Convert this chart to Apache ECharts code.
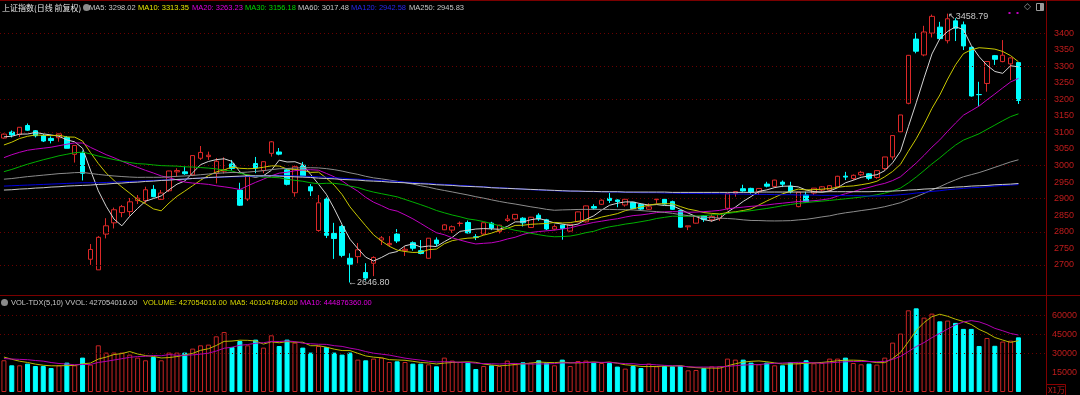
<!DOCTYPE html>
<html><head><meta charset="utf-8">
<script src="https://cdn.jsdelivr.net/npm/echarts/dist/echarts.min.js"></script>
<style>html,body{margin:0;padding:0;background:#000;}#c{width:1080px;height:395px;}</style>
</head><body><div id="c"></div>
<script>
// ---- categories (trading days, 2020) ----
const dates = ['0109','0110','0113','0114','0115','0116','0117','0120','0121','0122','0123',
'0203','0204','0205','0206','0207','0210','0211','0212','0213','0214','0217','0218','0219','0220','0221','0224','0225','0226','0227','0228',
'0302','0303','0304','0305','0306','0309','0310','0311','0312','0313','0316','0317','0318','0319','0320','0323','0324','0325','0326','0327','0330','0331',
'0401','0402','0403','0407','0408','0409','0410','0413','0414','0415','0416','0417','0420','0421','0422','0423','0424','0427','0428','0429','0430',
'0506','0507','0508','0511','0512','0513','0514','0515','0518','0519','0520','0521','0522','0525','0526','0527','0528','0529',
'0601','0602','0603','0604','0605','0608','0609','0610','0611','0612','0615','0616','0617','0618','0619','0622','0623','0624','0629','0630',
'0701','0702','0703','0706','0707','0708','0709','0710','0713','0714','0715','0716','0717','0720','0721','0722','0723','0724'];

const opens = [3083,3101,3094,3121,3105,3090,3082,3084,3085,3034,3038,
2717,2685,2793,2827,2858,2861,2894,2894,2928,2898,2924,2981,2981,2972,3022,3027,2977,2983,3005,2926,
2899,3006,2985,3037,3041,2987,2918,3001,2936,2804,2899,2795,2816,2720,2725,2677,2705,2775,2761,2793,2743,2767,
2743,2720,2775,2806,2805,2825,2828,2785,2793,2826,2801,2834,2839,2841,2813,2850,2836,2808,2820,2802,2830,
2830,2876,2883,2901,2896,2881,2889,2883,2868,2897,2898,2891,2864,2815,2826,2848,2836,2840,
2871,2916,2930,2931,2921,2944,2937,2950,2938,2876,2911,2917,2926,2926,2936,2968,2961,2972,2975,2964,
2991,3026,3102,3188,3382,3334,3400,3418,3377,3437,3425,3357,3214.5,3248,3332,3314,3307,3311];

const highs = [3097,3106,3116,3127,3107,3095,3088,3096,3089,3061,3045,
2763,2787,2841,2873,2881,2902,2911,2936,2941,2926,2984,2992,2997,3031,3059,3042,3023,3025,3017,2948,
2972,3026,3013,3074,3053,2990,3000,3011,2944,2911,2904,2827,2821,2735,2766,2705,2726,2787,2787,2808,2756,2771,
2775,2781,2783,2823,2819,2831,2834,2793,2828,2830,2821,2851,2853,2844,2845,2856,2839,2822,2822,2823,2861,
2879,2883,2898,2917,2898,2899,2890,2886,2886,2899,2900,2894,2866,2818,2847,2850,2853,2853,
2916,2922,2942,2933,2932,2951,2957,2955,2951,2920,2921,2932,2938,2941,2969,2981,2973,2984,2977,2986,
3026,3091,3153,3334,3400,3422,3456,3434,3458.79,3445,3435,3360,3253,3315,3334,3379,3327,3312];

const lows = [3081,3085,3086,3105,3085,3071,3067,3072,3052,3009,2955,
2700,2685,2780,2810,2844,2848,2884,2886,2904,2896,2920,2966,2972,2968,3017,3017,2946,2976,2985,2878,
2893,2977,2977,3027,3031,2940,2906,2968,2908,2800,2781,2718,2723,2646.80,2705,2653,2666,2760,2755,2766,2727,2743,
2732,2719,2757,2805,2797,2816,2795,2775,2790,2805,2795,2830,2834,2816,2812,2833,2805,2804,2776,2799,2829,
2828,2866,2881,2887,2874,2876,2869,2866,2866,2885,2882,2866,2812,2805,2825,2830,2830,2833,
2865,2906,2921,2915,2911,2934,2933,2935,2916,2874,2888,2911,2921,2921,2934,2956,2956,2968,2956,2960,
2985,3018,3098,3185,3339,3330,3387,3379,3369,3376,3349,3208,3180,3223,3304,3312,3258,3186];

const closes = [3094.88,3092.29,3115.57,3106.82,3090.04,3074.08,3075.50,3095.79,3052.14,3060.75,2976.53,
2746.61,2783.29,2818.09,2866.51,2875.96,2890.49,2901.67,2926.90,2906.07,2917.01,2983.62,2984.97,2975.40,3030.15,3039.67,3031.23,3013.05,2987.93,2991.33,2880.30,
2970.93,2992.90,3011.67,3071.68,3034.51,2943.29,2996.76,2968.52,2923.49,2887.43,2789.25,2779.64,2728.76,2702.13,2745.62,2660.17,2722.44,2781.59,2764.91,2772.20,2747.21,2750.30,
2734.52,2780.64,2763.99,2820.76,2815.37,2825.90,2796.63,2783.05,2827.28,2811.17,2819.94,2838.49,2852.55,2827.01,2843.98,2838.50,2808.53,2815.49,2810.02,2822.44,2860.08,
2878.14,2871.52,2895.34,2894.80,2891.56,2898.05,2870.34,2868.46,2875.42,2898.58,2883.74,2867.92,2813.77,2817.97,2846.55,2836.80,2846.22,2852.35,
2915.43,2921.40,2923.37,2919.25,2930.80,2937.77,2956.11,2943.75,2920.90,2919.74,2890.03,2931.75,2935.87,2939.32,2967.63,2965.27,2970.62,2979.55,2961.52,2984.67,
3025.98,3090.57,3152.81,3332.88,3345.34,3403.44,3450.59,3383.32,3443.29,3414.62,3361.30,3210.10,3214.13,3314.15,3320.90,3333.16,3325.11,3196.77];

// closes of the 59 sessions before the first candle (feed the moving averages)
const priorCloses = [2977.33,2938.14,2939.62,2954.38,2940.92,2940.46,2954.93,2980.05,2954.18,2939.32,2929.06,2958.20,2975.49,2991.56,2978.60,2978.71,2964.18,2909.97,2914.82,2905.24,2909.87,2891.34,2909.20,2933.99,2911.05,2903.64,2885.29,2906.17,2907.06,2903.19,
2889.69,2871.98,2875.81,2884.70,2878.12,2899.47,2912.01,2914.48,2917.32,2924.42,2915.70,2967.68,2984.39,3022.42,3017.04,3017.07,3004.94,2962.75,2982.68,2981.88,3007.35,3005.04,3040.02,3050.12,3085.20,3083.79,3083.41,3104.80,3066.89];

// long averages
const ma120 = [2938,2939,2940,2941,2942,2943,2944,2945,2946,2947,2948,2948,2948,2949,2950,2951,2952,2953,2954,2955,2956,2957,2958,2959,2961,2962,2963,2964,2965,2966,2966,2967,2968,2969,2970,2970,2969,2969,2968,2967,2966,2965,2963,2962,2960,2959,2957,2956,2955,2953,2952,2950,2949,2947,2946,2944,2943,2942,2940,2939,2937,2936,2934,2933,2932,2930,2929,2927,2926,2925,2924,2923,2923,2922,2922,2921,2921,2920,2920,2919,2919,2918,2918,2918,2917,2917,2916,2916,2916,2915,2915,2915,2914,2914,2914,2913,2913,2913,2912,2912,2912,2911,2911,2911,2910,2910,2910,2909,2909,2909,2908,2908,2909,2910,2912,2914,2917,2919,2922,2924,2927,2929,2931,2933,2934,2936,2938,2940,2941,2942.58];
const ma250 = [2926,2927,2929,2930,2932,2933,2935,2936,2938,2939,2940,2941,2943,2944,2946,2947,2949,2950,2952,2953,2955,2956,2958,2959,2961,2962,2964,2965,2966,2967,2968,2969,2969,2969,2969,2968,2967,2966,2965,2964,2962,2961,2960,2958,2957,2956,2954,2953,2952,2950,2949,2948,2946,2945,2944,2942,2941,2940,2938,2937,2936,2935,2933,2932,2931,2930,2929,2928,2927,2926,2925,2924,2923,2923,2922,2922,2921,2921,2921,2920,2920,2920,2920,2920,2920,2919,2919,2919,2919,2919,2919,2919,2919,2919,2919,2919,2920,2920,2920,2920,2920,2920,2920,2920,2920,2921,2921,2921,2921,2921,2921,2922,2922,2923,2924,2926,2927,2929,2930,2932,2933,2935,2936,2938,2939,2940,2942,2943,2944,2945.83];

// volume, unit: 10,000 (X1万)
const volumes = [24800,20850,20850,22180,20300,20300,18750,20850,22960,20850,26860,
21400,36470,30770,30770,30770,29210,26860,24760,27340,24760,30770,30770,30770,33900,36470,37020,43500,46860,35150,39830,
36470,40930,34680,44280,35930,40930,38580,34680,30770,35930,35150,30770,29210,30770,25300,24760,26090,26860,23430,23980,23430,22180,
22180,21630,20070,26860,24520,23430,22960,17960,20300,20850,20300,24520,21630,23200,22960,24760,22960,20850,25300,20300,24210,
24520,22960,22650,22650,19840,18280,20300,18750,22180,20070,20300,20070,20570,16950,17210,18750,20070,20070,
26090,25300,25300,22960,21630,22960,20850,20850,23200,22440,24760,22440,22650,26090,26090,26860,22650,21630,22180,21400,
26860,38580,45610,63810,65370,58110,61230,55220,55800,54000,49300,49300,35950,42200,36100,39400,40120,42705];
const priorVolumes = [24000,23500,25000,26500,25400,29500,28500,27000,26700];

const priceTicks = [2700,2750,2800,2850,2900,2950,3000,3050,3100,3150,3200,3250,3300,3350,3400];
const priceGrid = [2700,2800,2900,3000,3100,3200,3300,3400];
const volTicks = [15000,30000,45000,60000];
const volGrid = [30000,45000,60000];

function movingAvg(prior, vals, n) {
  const all = prior.concat(vals), P = prior.length;
  return vals.map((_, i) => { let s = 0; for (let k = P + i - n + 1; k <= P + i; k++) s += all[k]; return +(s / n).toFixed(2); });
}

const UP = '#dc2828', DOWN = '#00ffff', AX = '#c01c1c';
const cats = dates.concat(['p1', 'p2', 'p3']);
const isUp = closes.map((c, i) => c >= opens[i]);
const FONT = '"Liberation Sans",Arial,sans-serif';

const chart = echarts.init(document.getElementById('c'), null, {renderer: 'canvas'});

function lineSeries(name, data, color, xi, yi) {
  return {name, type: 'line', data, xAxisIndex: xi, yAxisIndex: yi, showSymbol: false, symbol: 'none', silent: true,
    lineStyle: {color, width: 1}, z: 5, animation: false};
}

const legendTop = [
  ['MA5: 3298.02', 89, '#c8c8c8'], ['MA10: 3313.35', 138, '#e6e600'], ['MA20: 3263.23', 192, '#e000e0'],
  ['MA30: 3156.18', 245, '#00d800'], ['MA60: 3017.48', 298, '#c8c8c8'], ['MA120: 2942.58', 351, '#2828f0'],
  ['MA250: 2945.83', 409, '#c8c8c8']];
const legendVol = [
  ['VOL-TDX(5,10) VVOL: 427054016.00', 11, '#c8c8c8'], ['VOLUME: 427054016.00', 143, '#d8d800'],
  ['MA5: 401047840.00', 230, '#d8d800'], ['MA10: 444876360.00', 300, '#e000e0']];

const graphics = [
  {type: 'line', shape: {x1: 0, y1: 0.5, x2: 1080, y2: 0.5}, style: {stroke: '#7a0000', lineWidth: 1}, silent: true},
  {type: 'line', shape: {x1: 0, y1: 295.5, x2: 1080, y2: 295.5}, style: {stroke: '#7a0000', lineWidth: 1}, silent: true},
  {type: 'text', style: {text: '上证指数(日线 前复权)', x: 2, y: 7.5, fill: '#e8e8e8', font: '8px "Noto Sans CJK SC"', verticalAlign: 'middle'}, silent: true},
  {type: 'circle', shape: {cx: 86.5, cy: 7.5, r: 3.5}, style: {fill: '#8a8a8a'}, silent: true},
  {type: 'circle', shape: {cx: 4.5, cy: 302.5, r: 3.5}, style: {fill: '#8a8a8a'}, silent: true},
  {type: 'rect', shape: {x: 1046.5, y: 384.5, width: 19, height: 11}, style: {fill: 'none', stroke: '#8c0000'}, silent: true},
  {type: 'text', style: {text: 'X1万', x: 1048, y: 390, fill: AX, font: '8px "Noto Sans CJK SC"', verticalAlign: 'middle'}, silent: true},
  {type: 'text', style: {text: '◇', x: 1024, y: 6.5, fill: '#9a9a9a', font: '9px "DejaVu Sans"', verticalAlign: 'middle'}, silent: true},
  {type: 'rect', shape: {x: 1036.5, y: 3.5, width: 7, height: 7}, style: {fill: 'none', stroke: '#9a9a9a'}, silent: true},
  {type: 'rect', shape: {x: 1040, y: 4, width: 3, height: 6}, style: {fill: '#9a9a9a'}, silent: true},
  {type: 'rect', shape: {x: 1008.5, y: 12, width: 2, height: 2}, style: {fill: '#c000c0'}, silent: true},
  {type: 'rect', shape: {x: 1016.5, y: 12, width: 2, height: 2}, style: {fill: '#c000c0'}, silent: true}
];
legendTop.forEach(([t, x, c]) => graphics.push({type: 'text', style: {text: t, x, y: 7.5, fill: c, font: '7.5px ' + FONT, verticalAlign: 'middle'}, silent: true}));
legendVol.forEach(([t, x, c]) => graphics.push({type: 'text', style: {text: t, x, y: 302.5, fill: c, font: '7.5px ' + FONT, verticalAlign: 'middle'}, silent: true}));

const option = {
  backgroundColor: '#000',
  animation: false,
  grid: [
    {left: -1, right: 34, top: 0, height: 298},
    {left: -1, right: 34, top: 296, height: 96}
  ],
  xAxis: [
    {type: 'category', gridIndex: 0, data: cats, boundaryGap: true, show: false},
    {type: 'category', gridIndex: 1, data: cats, boundaryGap: true, show: false}
  ],
  yAxis: [
    {type: 'value', gridIndex: 0, position: 'right', min: 2600, max: 3500, interval: 50,
      axisLine: {show: true, lineStyle: {color: '#800000'}}, axisTick: {show: false}, splitLine: {show: false},
      axisLabel: {color: AX, fontSize: 9, fontFamily: 'Liberation Sans', margin: 8,
        formatter: v => priceTicks.indexOf(v) >= 0 ? String(v) : ''}},
    {type: 'value', gridIndex: 1, position: 'right', min: 0, max: 75000, interval: 15000,
      axisLine: {show: true, lineStyle: {color: '#800000'}}, axisTick: {show: false}, splitLine: {show: false},
      axisLabel: {color: AX, fontSize: 9, fontFamily: 'Liberation Sans', margin: 6,
        formatter: v => volTicks.indexOf(v) >= 0 ? String(v) : ''}}
  ],
  graphic: graphics,
  series: [
    {type: 'line', xAxisIndex: 0, yAxisIndex: 0, data: [], silent: true, z: 0,
      markLine: {silent: true, symbol: 'none', label: {show: false},
        lineStyle: {color: '#6a0000', type: [1, 3], width: 1},
        data: priceGrid.map(v => ({yAxis: v}))}},
    {type: 'line', xAxisIndex: 1, yAxisIndex: 1, data: [], silent: true, z: 0,
      markLine: {silent: true, symbol: 'none', label: {show: false},
        lineStyle: {color: '#6a0000', type: [1, 3], width: 1},
        data: volGrid.map(v => ({yAxis: v}))}},
    {type: 'candlestick', xAxisIndex: 0, yAxisIndex: 0, barWidth: 5, z: 3,
      data: dates.map((d, i) => [opens[i], closes[i], lows[i], highs[i]]),
      itemStyle: {color: '#000', color0: DOWN, borderColor: UP, borderColor0: DOWN, borderWidth: 1},
      markPoint: {symbol: 'circle', symbolSize: 0, silent: true,
        label: {color: '#c8c8c8', fontSize: 9, fontFamily: 'Liberation Sans'},
        data: [
          {type: 'max', valueDim: 'highest', label: {position: 'right', distance: 0, offset: [0, 3], formatter: p => '↖' + p.value.toFixed(2)}},
          {type: 'min', valueDim: 'lowest', label: {position: 'right', distance: 0, offset: [-2, 0], formatter: p => '←' + p.value.toFixed(2)}}
        ]}},
    lineSeries('MA5', movingAvg(priorCloses, closes, 5), '#d4d4d4', 0, 0),
    lineSeries('MA10', movingAvg(priorCloses, closes, 10), '#c8c800', 0, 0),
    lineSeries('MA20', movingAvg(priorCloses, closes, 20), '#c000c0', 0, 0),
    lineSeries('MA30', movingAvg(priorCloses, closes, 30), '#00b000', 0, 0),
    lineSeries('MA60', movingAvg(priorCloses, closes, 60), '#8c8c8c', 0, 0),
    lineSeries('MA120', ma120, '#0000e0', 0, 0),
    lineSeries('MA250', ma250, '#c8c8c8', 0, 0),
    {type: 'bar', xAxisIndex: 1, yAxisIndex: 1, barWidth: 5, z: 3,
      data: volumes.map((v, i) => ({value: v, itemStyle: isUp[i]
        ? {color: '#000', borderColor: '#c82424', borderWidth: 1}
        : {color: DOWN, borderColor: DOWN, borderWidth: 1}}))},
    lineSeries('VMA5', movingAvg(priorVolumes, volumes, 5), '#b8b800', 1, 1),
    lineSeries('VMA10', movingAvg(priorVolumes, volumes, 10), '#b000b0', 1, 1)
  ]
};
chart.setOption(option);
</script></body></html>
